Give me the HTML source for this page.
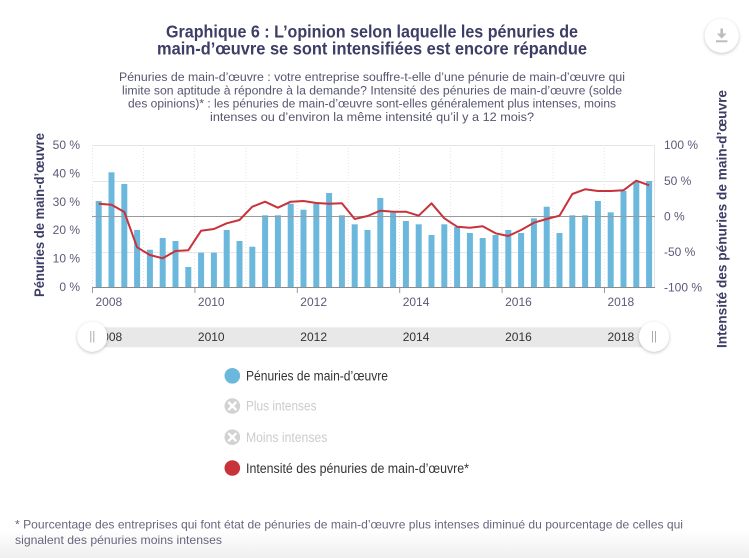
<!DOCTYPE html>
<html><head><meta charset="utf-8">
<style>
html,body{margin:0;padding:0;background:#fff;}
body{width:749px;height:558px;overflow:hidden;}
svg{display:block;}
text{font-family:"Liberation Sans",sans-serif;}
</style></head>
<body>
<svg width="749" height="558" viewBox="0 0 749 558" xmlns="http://www.w3.org/2000/svg">
<defs>
<linearGradient id="bg" x1="0" y1="0" x2="0" y2="1">
<stop offset="0" stop-color="#ffffff"/>
<stop offset="1" stop-color="#efefef"/>
</linearGradient>
<filter id="sh" x="-50%" y="-50%" width="200%" height="200%">
<feDropShadow dx="0" dy="1" stdDeviation="1.6" flood-color="#000" flood-opacity="0.25"/>
</filter>
</defs>
<rect x="0" y="0" width="749" height="558" fill="#fff"/>
<rect x="0" y="530" width="749" height="28" fill="url(#bg)"/>

<!-- Titles -->
<text x="372" y="37.5" text-anchor="middle" font-size="17.2" font-weight="bold" fill="#3d3d66" textLength="412" lengthAdjust="spacingAndGlyphs">Graphique 6 : L’opinion selon laquelle les pénuries de</text>
<text x="372" y="54.5" text-anchor="middle" font-size="17.2" font-weight="bold" fill="#3d3d66" textLength="430" lengthAdjust="spacingAndGlyphs">main-d’œuvre se sont intensifiées est encore répandue</text>
<g font-size="12.4" fill="#55556f" text-anchor="middle">
<text x="372" y="81" textLength="506" lengthAdjust="spacingAndGlyphs">Pénuries de main-d’œuvre : votre entreprise souffre-t-elle d’une pénurie de main-d’œuvre qui</text>
<text x="372" y="94.3" textLength="500" lengthAdjust="spacingAndGlyphs">limite son aptitude à répondre à la demande? Intensité des pénuries de main-d’œuvre (solde</text>
<text x="372" y="107.6" textLength="488" lengthAdjust="spacingAndGlyphs">des opinions)* : les pénuries de main-d’œuvre sont-elles généralement plus intenses, moins</text>
<text x="372" y="121" textLength="324" lengthAdjust="spacingAndGlyphs">intenses ou d’environ la même intensité qu’il y a 12 mois?</text>
</g>

<!-- Download button -->
<circle cx="721.7" cy="35.7" r="17" fill="#fff" filter="url(#sh)"/>
<rect x="720.4" y="28.5" width="2.6" height="5.5" fill="#bdbdbd"/>
<polygon points="716.8,33.5 726.6,33.5 721.7,38.6" fill="#bdbdbd"/>
<rect x="716" y="40.3" width="11.4" height="2" fill="#bdbdbd"/>

<!-- Gridlines -->
<g stroke="#e3e3e3" stroke-width="1" stroke-dasharray="1,2">
<line x1="143.5" y1="145" x2="143.5" y2="287"/>
<line x1="194.7" y1="145" x2="194.7" y2="287"/>
<line x1="245.9" y1="145" x2="245.9" y2="287"/>
<line x1="297.1" y1="145" x2="297.1" y2="287"/>
<line x1="348.3" y1="145" x2="348.3" y2="287"/>
<line x1="399.5" y1="145" x2="399.5" y2="287"/>
<line x1="450.7" y1="145" x2="450.7" y2="287"/>
<line x1="501.9" y1="145" x2="501.9" y2="287"/>
<line x1="553.1" y1="145" x2="553.1" y2="287"/>
<line x1="604.3" y1="145" x2="604.3" y2="287"/>
<line x1="92.5" y1="145" x2="92.5" y2="287"/>
</g>
<line x1="654.5" y1="145" x2="654.5" y2="287" stroke="#e6e6e6"/>
<g stroke="#e6e6e6" stroke-width="1">
<line x1="92" y1="145.5" x2="655" y2="145.5"/>
<line x1="92" y1="181.5" x2="655" y2="181.5"/>
<line x1="92" y1="252.5" x2="655" y2="252.5"/>
</g>

<!-- Bars -->
<g fill="#6cb8dc">
<rect x="95.7" y="201.0" width="6" height="86.0"/>
<rect x="108.5" y="172.3" width="6" height="114.7"/>
<rect x="121.3" y="184.0" width="6" height="103.0"/>
<rect x="134.1" y="230.0" width="6" height="57.0"/>
<rect x="146.9" y="249.7" width="6" height="37.3"/>
<rect x="159.7" y="238.0" width="6" height="49.0"/>
<rect x="172.5" y="241.0" width="6" height="46.0"/>
<rect x="185.3" y="267.0" width="6" height="20.0"/>
<rect x="198.1" y="252.7" width="6" height="34.3"/>
<rect x="210.9" y="252.7" width="6" height="34.3"/>
<rect x="223.7" y="230.0" width="6" height="57.0"/>
<rect x="236.5" y="241.0" width="6" height="46.0"/>
<rect x="249.3" y="246.7" width="6" height="40.3"/>
<rect x="262.1" y="215.3" width="6" height="71.7"/>
<rect x="274.9" y="215.3" width="6" height="71.7"/>
<rect x="287.7" y="203.7" width="6" height="83.3"/>
<rect x="300.5" y="209.7" width="6" height="77.3"/>
<rect x="313.3" y="203.7" width="6" height="83.3"/>
<rect x="326.1" y="193.0" width="6" height="94.0"/>
<rect x="338.9" y="215.3" width="6" height="71.7"/>
<rect x="351.7" y="224.3" width="6" height="62.7"/>
<rect x="364.5" y="230.0" width="6" height="57.0"/>
<rect x="377.3" y="198.0" width="6" height="89.0"/>
<rect x="390.1" y="212.7" width="6" height="74.3"/>
<rect x="402.9" y="221.0" width="6" height="66.0"/>
<rect x="415.7" y="224.3" width="6" height="62.7"/>
<rect x="428.5" y="235.0" width="6" height="52.0"/>
<rect x="441.3" y="224.3" width="6" height="62.7"/>
<rect x="454.1" y="227.0" width="6" height="60.0"/>
<rect x="466.9" y="233.0" width="6" height="54.0"/>
<rect x="479.7" y="238.0" width="6" height="49.0"/>
<rect x="492.5" y="235.0" width="6" height="52.0"/>
<rect x="505.3" y="230.0" width="6" height="57.0"/>
<rect x="518.1" y="233.0" width="6" height="54.0"/>
<rect x="530.9" y="218.3" width="6" height="68.7"/>
<rect x="543.7" y="206.7" width="6" height="80.3"/>
<rect x="556.5" y="233.0" width="6" height="54.0"/>
<rect x="569.3" y="215.3" width="6" height="71.7"/>
<rect x="582.1" y="215.3" width="6" height="71.7"/>
<rect x="594.9" y="201.0" width="6" height="86.0"/>
<rect x="607.7" y="212.3" width="6" height="74.7"/>
<rect x="620.5" y="191.0" width="6" height="96.0"/>
<rect x="633.3" y="181.7" width="6" height="105.3"/>
<rect x="646.1" y="181.0" width="6" height="106.0"/>
</g>

<!-- Zero line & axis -->
<line x1="92" y1="216.5" x2="655" y2="216.5" stroke="#9a9a9a" stroke-width="1"/>
<line x1="92" y1="287.5" x2="655" y2="287.5" stroke="#8a8a8a" stroke-width="1"/>
<g stroke="#999" stroke-width="1">
<line x1="92.5" y1="287" x2="92.5" y2="293"/>
<line x1="194.9" y1="287" x2="194.9" y2="293"/>
<line x1="297.3" y1="287" x2="297.3" y2="293"/>
<line x1="399.7" y1="287" x2="399.7" y2="293"/>
<line x1="502.1" y1="287" x2="502.1" y2="293"/>
<line x1="604.5" y1="287" x2="604.5" y2="293"/>
</g>

<!-- Line series -->
<polyline fill="none" stroke="#c8323a" stroke-width="2" stroke-linejoin="round" points="98.7,203.7 111.5,204.7 124.3,212 137.1,247.3 149.9,255 162.7,258.3 175.5,251 188.3,250.3 201.1,230.7 213.9,229 226.7,223.3 239.5,220 252.3,206.7 265.1,201.7 277.9,207.7 290.7,201.7 303.5,201 316.3,203 329.1,203.7 341.9,203.3 354.7,219 367.5,216 380.3,210.7 393.1,211.7 405.9,211.7 418.7,215.7 431.5,203.3 444.3,218.3 457.1,226.7 469.9,227.7 482.7,226.3 495.5,233.3 508.3,236 521.1,230 533.9,222.7 546.7,219 559.5,215.7 572.3,194 585.1,189.3 597.9,191 610.7,191 623.5,190.3 636.3,180.7 649.1,185.3"/>

<!-- Axis labels -->
<g font-size="12" fill="#5a5a78" text-anchor="end">
<text x="80" y="149">50 %</text>
<text x="80" y="177.4">40 %</text>
<text x="80" y="205.8">30 %</text>
<text x="80" y="234.2">20 %</text>
<text x="80" y="262.6">10 %</text>
<text x="80" y="291">0 %</text>
</g>
<g font-size="12" fill="#5a5a78">
<text x="664" y="149">100 %</text>
<text x="664" y="185">50 %</text>
<text x="664" y="220.5">0 %</text>
<text x="664" y="256">-50 %</text>
<text x="664" y="291.5">-100 %</text>
</g>
<g font-size="12" fill="#5a5a78">
<text x="95.5" y="306">2008</text>
<text x="197.9" y="306">2010</text>
<text x="300.3" y="306">2012</text>
<text x="402.7" y="306">2014</text>
<text x="505.1" y="306">2016</text>
<text x="607.5" y="306">2018</text>
</g>

<!-- Axis titles -->
<text transform="translate(44,215) rotate(-90)" text-anchor="middle" font-size="13.5" font-weight="bold" fill="#3d3d66" textLength="164" lengthAdjust="spacingAndGlyphs">Pénuries de main-d’œuvre</text>
<text transform="translate(726.5,219) rotate(-90)" text-anchor="middle" font-size="13.5" font-weight="bold" fill="#3d3d66" textLength="258" lengthAdjust="spacingAndGlyphs">Intensité des pénuries de main-d’œuvre</text>

<!-- Navigator -->
<rect x="92" y="327.3" width="562" height="20" fill="#e8e8e8"/>
<g font-size="12" fill="#333">
<text x="95.5" y="341">2008</text>
<text x="197.9" y="341">2010</text>
<text x="300.3" y="341">2012</text>
<text x="402.7" y="341">2014</text>
<text x="505.1" y="341">2016</text>
<text x="607.5" y="341">2018</text>
</g>
<circle cx="92.3" cy="336.7" r="15" fill="#fff" filter="url(#sh)"/>
<circle cx="654" cy="336.7" r="15" fill="#fff" filter="url(#sh)"/>
<g stroke="#aaa" stroke-width="1">
<line x1="90.8" y1="331" x2="90.8" y2="342.5"/>
<line x1="93.8" y1="331" x2="93.8" y2="342.5"/>
<line x1="652.5" y1="331" x2="652.5" y2="342.5"/>
<line x1="655.5" y1="331" x2="655.5" y2="342.5"/>
</g>

<!-- Legend -->
<circle cx="232.3" cy="375.8" r="7.8" fill="#6cb8dc"/>
<text x="246" y="380.6" font-size="13.4" fill="#333" textLength="142" lengthAdjust="spacingAndGlyphs">Pénuries de main-d’œuvre</text>

<circle cx="232.3" cy="406" r="7.8" fill="#d2d2d2"/>
<g stroke="#fff" stroke-width="2.4">
<line x1="228.3" y1="402" x2="236.3" y2="410"/>
<line x1="236.3" y1="402" x2="228.3" y2="410"/>
</g>
<text x="246" y="410.7" font-size="13.4" fill="#cccccc" textLength="70.5" lengthAdjust="spacingAndGlyphs">Plus intenses</text>

<circle cx="232.3" cy="437.2" r="7.8" fill="#d2d2d2"/>
<g stroke="#fff" stroke-width="2.4">
<line x1="228.3" y1="433.2" x2="236.3" y2="441.2"/>
<line x1="236.3" y1="433.2" x2="228.3" y2="441.2"/>
</g>
<text x="246" y="441.9" font-size="13.4" fill="#cccccc" textLength="81.3" lengthAdjust="spacingAndGlyphs">Moins intenses</text>

<circle cx="232.3" cy="468" r="7.8" fill="#c8323a"/>
<text x="246" y="472.8" font-size="13.4" fill="#333" textLength="223" lengthAdjust="spacingAndGlyphs">Intensité des pénuries de main-d’œuvre*</text>

<!-- Footnote -->
<g font-size="12" fill="#66667e">
<text x="15" y="528.3" textLength="668" lengthAdjust="spacingAndGlyphs">* Pourcentage des entreprises qui font état de pénuries de main-d’œuvre plus intenses diminué du pourcentage de celles qui</text>
<text x="15" y="544" textLength="207" lengthAdjust="spacingAndGlyphs">signalent des pénuries moins intenses</text>
</g>
</svg>
</body></html>
